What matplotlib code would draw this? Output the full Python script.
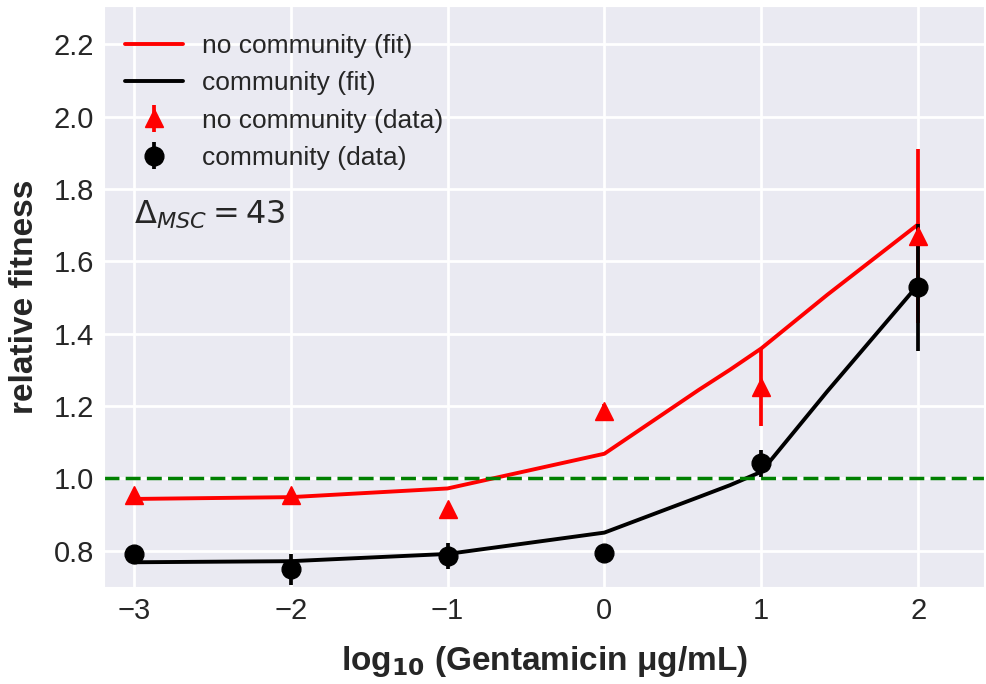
import matplotlib
matplotlib.use("Agg")
import matplotlib.pyplot as plt
import seaborn as sns

sns.set_style("darkgrid", {"grid.linewidth": 2.0})
plt.rcParams["font.family"] = ["Liberation Sans", "DejaVu Sans"]

# measured data (log10 concentration)
x_data = [-3, -2, -1, 0, 1, 2]
no_comm = [0.955, 0.955, 0.914, 1.186, 1.252, 1.670]
no_comm_err = [0.01, 0.01, 0.01, 0.02, 0.107, 0.24]
comm = [0.790, 0.749, 0.786, 0.794, 1.041, 1.528]
comm_err = [0.01, 0.043, 0.036, 0.01, 0.037, 0.176]

# fitted curves
x_fit = [-3, -2, -1, 0, 0.6, 0.8, 1, 1.42, 2]
no_comm_fit = [0.943, 0.948, 0.972, 1.068, 1.244, 1.300, 1.359, 1.507, 1.702]
comm_fit = [0.768, 0.771, 0.791, 0.850, 0.948, 0.981, 1.018, 1.240, 1.535]

fig = plt.figure(figsize=(9.86, 6.84), dpi=100)
ax = fig.add_axes([0.1055, 0.142, 0.8925, 0.849])
ax.grid(lw=2.0)

ax.plot(x_fit, no_comm_fit, color="red", lw=2.8, label="no community (fit)")
ax.plot(x_fit, comm_fit, color="black", lw=2.8, label="community (fit)")
ax.errorbar(x_data, no_comm, yerr=no_comm_err, fmt="^", color="red",
            ms=13.5, elinewidth=2.7, label="no community (data)")
ax.errorbar(x_data, comm, yerr=comm_err, fmt="o", color="black",
            ms=13.5, elinewidth=2.7, label="community (data)")
ax.axhline(1.0, color="green", ls="--", lw=2.5, dashes=(4.3, 1.8))

ax.text(-3.0, 1.727, r"$\Delta_{MSC} = 43$", fontsize=23,
        family="DejaVu Sans", va="center", color="0.15")

ax.set_xlim(-3.19, 2.42)
ax.set_ylim(0.70, 2.305)
ax.set_xticks([-3, -2, -1, 0, 1, 2])
ax.set_yticks([0.8, 1.0, 1.2, 1.4, 1.6, 1.8, 2.0, 2.2])
ax.tick_params(labelsize=21, colors="0.15")

ax.set_xlabel(r"log$_{\mathbf{10}}$ (Gentamicin μg/mL)", fontsize=24,
              fontweight="bold", labelpad=14)
ax.set_ylabel("relative fitness", fontsize=24, fontweight="bold", labelpad=10)

ax.legend(loc="upper left", bbox_to_anchor=(0, 0.988), fontsize=19,
          frameon=False, handlelength=2.2, borderaxespad=0.4,
          handletextpad=0.7)

fig.savefig("out.png", dpi=100)
